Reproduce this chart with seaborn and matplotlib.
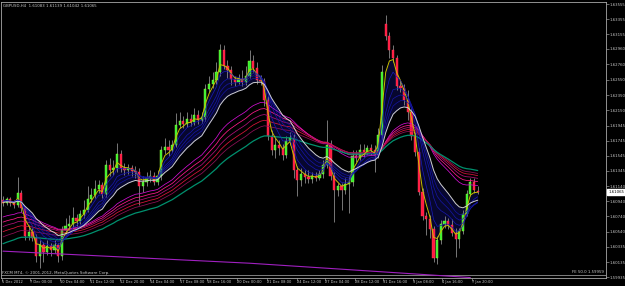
import numpy as np
import pandas as pd
import matplotlib
matplotlib.use("Agg")
import matplotlib.pyplot as plt
from matplotlib.transforms import blended_transform_factory
import seaborn as sns

symbol_title = "GBPUSD,H4  1.61083 1.61139 1.61042 1.61065"
copyright_text = "FXCM MT4, \u00a9 2001-2012, MetaQuotes Software Corp."

opens = [1.6096, 1.6092, 1.6097, 1.6092, 1.6089, 1.6105, 1.6085, 1.6048, 1.6053, 1.6045,
         1.6022, 1.6036, 1.6027, 1.6035, 1.6030, 1.6036, 1.6022, 1.6056, 1.6061, 1.6064,
         1.6072, 1.6068, 1.6077, 1.6083, 1.6097, 1.6102, 1.6110, 1.6116, 1.6104, 1.6142,
         1.6136, 1.6138, 1.6157, 1.6138, 1.6136, 1.6138, 1.6134, 1.6133, 1.6114, 1.6120,
         1.6125, 1.6128, 1.6120, 1.6128, 1.6162, 1.6166, 1.6162, 1.6169, 1.6195, 1.6201,
         1.6197, 1.6203, 1.6199, 1.6208, 1.6202, 1.6206, 1.6243, 1.6250, 1.6255, 1.6265,
         1.6295, 1.6273, 1.6268, 1.6256, 1.6252, 1.6256, 1.6252, 1.6260, 1.6280, 1.6271,
         1.6255, 1.6254, 1.6228, 1.6181, 1.6162, 1.6169, 1.6165, 1.6155, 1.6174, 1.6178,
         1.6135, 1.6122, 1.6130, 1.6126, 1.6124, 1.6128, 1.6125, 1.6130, 1.6142, 1.6169,
         1.6128, 1.6109, 1.6114, 1.6109, 1.6117, 1.6120, 1.6154, 1.6152, 1.6162, 1.6159,
         1.6165, 1.6162, 1.6155, 1.6182, 1.6329, 1.6313, 1.6295, 1.6284, 1.6247, 1.6244,
         1.6228, 1.6212, 1.6181, 1.6159, 1.6106, 1.6075, 1.6071, 1.6057, 1.6019, 1.6043,
         1.6064, 1.6068, 1.6063, 1.6052, 1.6044, 1.6055, 1.6077, 1.6104, 1.6120, 1.61083]

highs = [1.6101, 1.6100, 1.6100, 1.6096, 1.6126, 1.6109, 1.6088, 1.6063, 1.6059, 1.6051,
         1.6043, 1.6040, 1.6043, 1.6039, 1.6043, 1.6039, 1.6061, 1.6072, 1.6076, 1.6087,
         1.6077, 1.6083, 1.6096, 1.6114, 1.6112, 1.6122, 1.6122, 1.6120, 1.6149, 1.6151,
         1.6149, 1.6171, 1.6162, 1.6145, 1.6144, 1.6142, 1.6141, 1.6138, 1.6128, 1.6133,
         1.6136, 1.6133, 1.6136, 1.6167, 1.6178, 1.6175, 1.6175, 1.6211, 1.6212, 1.6207,
         1.6212, 1.6210, 1.6218, 1.6215, 1.6212, 1.6250, 1.6260, 1.6265, 1.6279, 1.6303,
         1.6301, 1.6281, 1.6273, 1.6260, 1.6263, 1.6268, 1.6273, 1.6295, 1.6288, 1.6279,
         1.6262, 1.6258, 1.6234, 1.6189, 1.6178, 1.6175, 1.6170, 1.6181, 1.6186, 1.6183,
         1.6141, 1.6138, 1.6135, 1.6135, 1.6133, 1.6133, 1.6135, 1.6149, 1.6202, 1.6175,
         1.6133, 1.6119, 1.6119, 1.6125, 1.6128, 1.6162, 1.6162, 1.6170, 1.6170, 1.6169,
         1.6170, 1.6169, 1.6191, 1.6275, 1.6341, 1.6319, 1.6301, 1.6288, 1.6255, 1.6250,
         1.6242, 1.6218, 1.6186, 1.6165, 1.6112, 1.6080, 1.6076, 1.6061, 1.6048, 1.6069,
         1.6075, 1.6072, 1.6071, 1.6059, 1.6059, 1.6083, 1.6109, 1.6125, 1.6125, 1.61139]

lows = [1.6088, 1.6089, 1.6088, 1.6085, 1.6087, 1.6080, 1.6043, 1.6043, 1.6041, 1.6014,
        1.6006, 1.6014, 1.6023, 1.6022, 1.6026, 1.6014, 1.6016, 1.6051, 1.6056, 1.6059,
        1.6061, 1.6064, 1.6072, 1.6080, 1.6093, 1.6099, 1.6105, 1.6099, 1.6100, 1.6128,
        1.6129, 1.6133, 1.6133, 1.6129, 1.6130, 1.6128, 1.6125, 1.6089, 1.6106, 1.6114,
        1.6120, 1.6116, 1.6116, 1.6122, 1.6157, 1.6154, 1.6159, 1.6166, 1.6191, 1.6191,
        1.6193, 1.6194, 1.6195, 1.6197, 1.6198, 1.6201, 1.6239, 1.6244, 1.6250, 1.6260,
        1.6270, 1.6258, 1.6248, 1.6247, 1.6250, 1.6247, 1.6248, 1.6258, 1.6265, 1.6250,
        1.6248, 1.6220, 1.6175, 1.6155, 1.6152, 1.6155, 1.6149, 1.6152, 1.6169, 1.6125,
        1.6101, 1.6114, 1.6119, 1.6119, 1.6119, 1.6121, 1.6122, 1.6125, 1.6138, 1.6122,
        1.6067, 1.6101, 1.6083, 1.6104, 1.6079, 1.6114, 1.6146, 1.6149, 1.6153, 1.6155,
        1.6155, 1.6133, 1.6152, 1.6175, 1.6308, 1.6284, 1.6279, 1.6242, 1.6239, 1.6222,
        1.6202, 1.6175, 1.6154, 1.6102, 1.6069, 1.6049, 1.6045, 1.6014, 1.6011, 1.6037,
        1.6059, 1.6057, 1.6048, 1.6020, 1.6032, 1.6051, 1.6075, 1.6101, 1.6105, 1.61042]

closes = [1.6092, 1.6097, 1.6092, 1.6089, 1.6105, 1.6085, 1.6048, 1.6053, 1.6045, 1.6022,
          1.6036, 1.6027, 1.6035, 1.6030, 1.6036, 1.6022, 1.6056, 1.6061, 1.6064, 1.6072,
          1.6068, 1.6077, 1.6083, 1.6097, 1.6102, 1.6110, 1.6116, 1.6104, 1.6142, 1.6136,
          1.6138, 1.6157, 1.6138, 1.6136, 1.6138, 1.6134, 1.6133, 1.6114, 1.6120, 1.6125,
          1.6128, 1.6120, 1.6128, 1.6162, 1.6166, 1.6162, 1.6169, 1.6195, 1.6201, 1.6197,
          1.6203, 1.6199, 1.6208, 1.6202, 1.6206, 1.6243, 1.6250, 1.6255, 1.6265, 1.6295,
          1.6273, 1.6268, 1.6256, 1.6252, 1.6256, 1.6252, 1.6260, 1.6280, 1.6271, 1.6255,
          1.6254, 1.6228, 1.6181, 1.6162, 1.6169, 1.6165, 1.6155, 1.6174, 1.6178, 1.6135,
          1.6122, 1.6130, 1.6126, 1.6124, 1.6128, 1.6125, 1.6130, 1.6142, 1.6169, 1.6128,
          1.6109, 1.6114, 1.6109, 1.6117, 1.6120, 1.6154, 1.6152, 1.6162, 1.6159, 1.6165,
          1.6162, 1.6155, 1.6182, 1.6265, 1.6313, 1.6295, 1.6284, 1.6247, 1.6244, 1.6228,
          1.6212, 1.6181, 1.6159, 1.6106, 1.6075, 1.6071, 1.6057, 1.6019, 1.6043, 1.6064,
          1.6068, 1.6063, 1.6052, 1.6044, 1.6055, 1.6077, 1.6104, 1.6120, 1.6109, 1.61065]

# moving-average groups (periods) and their values at the first visible bar
short_periods = [3, 5, 8, 10, 12, 15]
short_seeds = [1.6092, 1.6094, 1.6095, 1.6095, 1.6094, 1.6093]
long_periods = [30, 35, 40, 45, 50, 60]
long_seeds = [1.6072, 1.6065, 1.6059, 1.6052, 1.6045, 1.6036]

trend_bars = [0, 67, 127]
trend_prices = [1.6028, 1.6012, 1.5993]
fe_level = 1.59959
fe_label = "FE 50.0 1.59959"
last_price = 1.61065

ytick_labels = ["1.63555", "1.63355", "1.63155", "1.62960", "1.62760", "1.62550",
                "1.62350", "1.62150", "1.61945", "1.61745", "1.61545", "1.61345",
                "1.61140", "1.60940", "1.60740", "1.60540", "1.60335", "1.60135", "1.59935"]
xtick_labels = ["5 Dec 2012", "7 Dec 00:00", "10 Dec 04:00", "11 Dec 12:00", "12 Dec 20:00",
                "14 Dec 04:00", "17 Dec 08:00", "18 Dec 16:00", "20 Dec 00:00", "21 Dec 08:00",
                "24 Dec 12:00", "27 Dec 04:00", "28 Dec 12:00", "31 Dec 16:00", "3 Jan 08:00",
                "4 Jan 16:00", "7 Jan 20:00"]
xtick_bars = [-0.3, 7.3, 15.5, 23.6, 31.8, 39.9, 48.1, 55.4, 63.6, 71.7,
              79.9, 87.5, 95.7, 103.3, 111.4, 119.3, 127.4]


def ema(values, period, seed):
    a = 2.0 / (period + 1)
    out = []
    prev = seed
    for v in values:
        prev = prev + a * (v - prev)
        out.append(prev)
    return np.array(out)


sns.set_theme(style="dark")
plt.rcParams['font.family'] = ['DejaVu Sans']

O = np.array(opens); H = np.array(highs); L = np.array(lows); C = np.array(closes)
bars = np.arange(len(C))

fig = plt.figure(figsize=(6.25, 2.86), dpi=100, facecolor="black")
ax = fig.add_axes([1 / 625, 8 / 286, 605 / 625, 276 / 286])
ax.set_facecolor("black")

short_colors = ["#c8c000", "#1a1ab8", "#1818b0", "#1616a8", "#1414a0", "#d0d0d0"]
long_colors = ["#d010d0", "#ff1a8c", "#b01078", "#dc143c", "#901058", "#00906e"]

short_emas = [ema(C, p, s) for p, s in zip(short_periods, short_seeds)]
long_emas = [ema(C, p, s) for p, s in zip(long_periods, long_seeds)]

ax.fill_between(bars, short_emas[0], short_emas[-1], color="#07072e", lw=0, zorder=1)

# candles
up = C >= O
ax.vlines(bars, L, H, color="#8a8a8a", lw=0.6, zorder=2)
body_bottom = np.minimum(O, C)
body_h = np.maximum(np.abs(C - O), 0.00005)
ax.bar(bars[up], body_h[up], bottom=body_bottom[up], width=0.6,
       color="#30ee30", edgecolor="#a0ff40", linewidth=0.3, zorder=3)
ax.bar(bars[~up], body_h[~up], bottom=body_bottom[~up], width=0.6,
       color="#ff1a40", edgecolor="#ff4060", linewidth=0.3, zorder=3)

# moving averages
for vals, col, p in zip(long_emas, long_colors, long_periods):
    sns.lineplot(x=bars, y=vals, color=col, lw=0.9 if p == 60 else 0.55, ax=ax, zorder=4)
for vals, col, p in zip(short_emas, short_colors, short_periods):
    sns.lineplot(x=bars, y=vals, color=col, lw=0.7 if p in (3, 15) else 0.5, ax=ax, zorder=5)

# trend line and Fibonacci expansion level
sns.lineplot(x=trend_bars, y=trend_prices, color="#a020c0", lw=0.8, ax=ax, zorder=4)
ax.axhline(fe_level, color="#b0b0b0", lw=0.5, zorder=3)

ax.set_xlim(-0.54, 163.86)
ax.set_ylim(1.59924, 1.63583)

ax.yaxis.tick_right()
ax.set_yticks([float(t) for t in ytick_labels])
ax.set_yticklabels(ytick_labels)
ax.set_xticks(xtick_bars)
ax.set_xticklabels(xtick_labels)
for lab in ax.get_xticklabels():
    lab.set_horizontalalignment("left")
ax.tick_params(axis="y", colors="#b8b8b8", labelcolor="#c8c8c8", labelsize=2.8,
               length=1.8, width=0.4, pad=0.6, direction="out", right=True, left=False)
ax.tick_params(axis="x", colors="#b8b8b8", labelcolor="#c8c8c8", labelsize=2.6,
               length=1.8, width=0.4, pad=-0.6, direction="out", bottom=True)
ax.set_xlabel(""); ax.set_ylabel("")
ax.grid(False)
for sp in ax.spines.values():
    sp.set_visible(True)
    sp.set_color("#a8a8a8")
    sp.set_linewidth(0.6)

ax.text(0.003, 0.986, symbol_title, transform=ax.transAxes, color="#c8c8c8",
        fontsize=2.8, ha="left", va="center")
ax.text(-0.27, 1.5999, copyright_text, color="#c8c8c8", fontsize=2.9,
        ha="left", va="center", zorder=6)
ax.text(163.3, 1.6001, fe_label, color="#c8c8c8", fontsize=2.8,
        ha="right", va="center", zorder=6)

trans = blended_transform_factory(ax.transAxes, ax.transData)
ax.text(1.004, last_price, f"{last_price:.5f}", transform=trans, color="black",
        fontsize=2.8, ha="left", va="center", zorder=7, clip_on=False,
        bbox=dict(boxstyle="square,pad=0.25", facecolor="white", edgecolor="white"))

fig.savefig("out.png", dpi=100, facecolor="black")
